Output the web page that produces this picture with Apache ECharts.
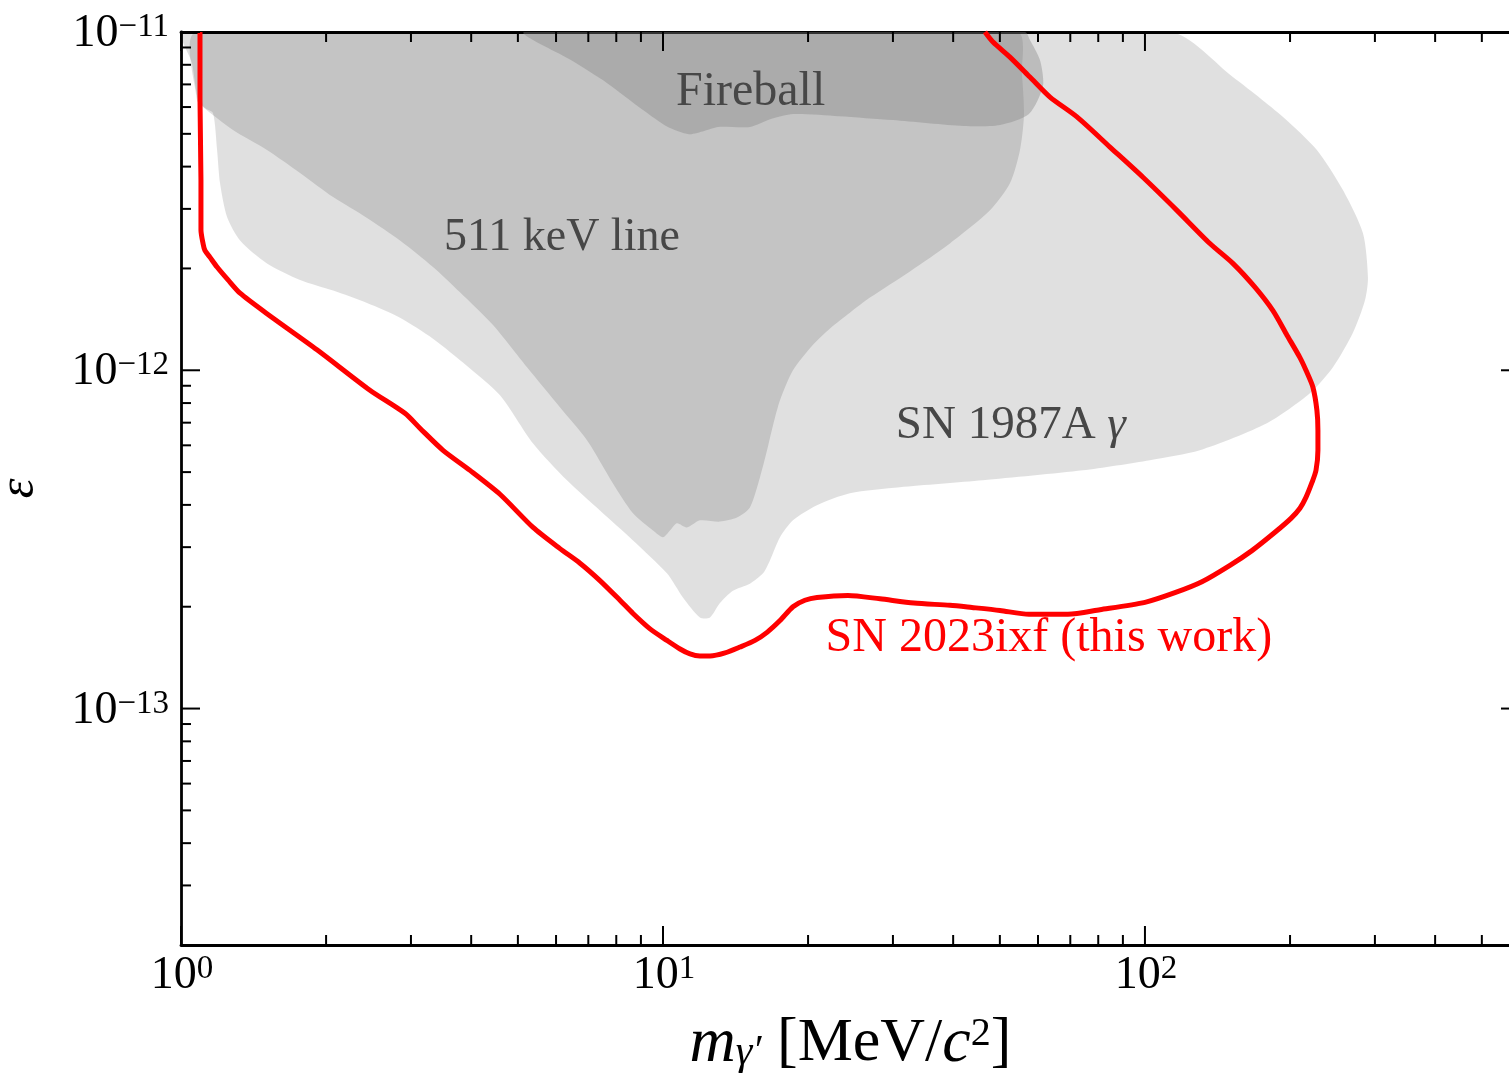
<!DOCTYPE html>
<html>
<head>
<meta charset="utf-8">
<script src="https://cdn.jsdelivr.net/npm/echarts@6/dist/echarts.min.js"></script>
<style>
html, body { margin: 0; padding: 0; background: #ffffff; }
#chart { width: 1509px; height: 1079px; }
</style>
</head>
<body>
<div id="chart"></div>
<script>
// ---------------- axis ranges ----------------
const X_MIN = 1, X_MAX = 600;
const Y_MIN = 2e-14, Y_MAX = 1e-11;

// ---------------- data (mass [MeV/c^2], epsilon) ----------------
const sn2023ixf = [
  [1.095,1.00e-11],[1.095,6.29e-12],[1.100,3.65e-12],[1.100,2.60e-12],[1.111,2.37e-12],
  [1.121,2.26e-12],[1.148,2.16e-12],[1.188,2.02e-12],[1.252,1.85e-12],[1.326,1.69e-12],
  [1.508,1.47e-12],[1.915,1.15e-12],[2.466,8.73e-13],[2.915,7.46e-13],[3.132,6.74e-13],
  [3.497,5.80e-13],[3.978,5.06e-13],[4.590,4.30e-13],[5.376,3.43e-13],[6.113,2.97e-13],
  [6.727,2.69e-13],[7.400,2.39e-13],[8.143,2.09e-13],[8.666,1.91e-13],[9.40,1.72e-13],
  [10.19,1.59e-13],[10.85,1.50e-13],[11.38,1.45e-13],[11.93,1.43e-13],[12.52,1.43e-13],
  [13.45,1.46e-13],[14.45,1.52e-13],[15.52,1.59e-13],[16.44,1.68e-13],[17.49,1.82e-13],
  [18.61,2.00e-13],[19.70,2.09e-13],[20.87,2.13e-13],[24.20,2.16e-13],[28.20,2.11e-13],
  [33.17,2.05e-13],[39.39,2.02e-13],[43.76,1.99e-13],[50.04,1.95e-13],[57.45,1.90e-13],
  [69.22,1.90e-13],[80.66,1.96e-13],[100.0,2.06e-13],[115.4,2.20e-13],[131.3,2.37e-13],
  [150.1,2.65e-13],[166.7,2.93e-13],[186.1,3.32e-13],[200.9,3.65e-13],[209.7,3.91e-13],
  [215.8,4.21e-13],[222.1,4.66e-13],[226.4,5.06e-13],[228.5,5.80e-13],[228.5,6.65e-13],
  [227.4,7.61e-13],[223.1,8.91e-13],[215.8,1.00e-12],[209.7,1.09e-12],[197.1,1.27e-12],
  [184.3,1.50e-12],[169.1,1.76e-12],[152.2,2.07e-12],[136.4,2.37e-12],[116.5,2.97e-12],
  [99.05,3.72e-12],[84.60,4.57e-12],[72.26,5.61e-12],[63.53,6.42e-12],[57.72,7.36e-12],
  [52.47,8.43e-12],[48.39,9.34e-12],[46.56,1.00e-11]
];

const sn1987aGamma = [
  [1.010,1.00e-11],[1.054,8.09e-12],[1.085,6.29e-12],[1.121,5.96e-12],[1.165,5.76e-12],
  [1.188,4.48e-12],[1.205,3.57e-12],[1.246,2.84e-12],[1.326,2.42e-12],[1.508,2.07e-12],
  [1.766,1.85e-12],[2.068,1.72e-12],[2.432,1.58e-12],[2.847,1.43e-12],[3.333,1.24e-12],
  [3.922,1.03e-12],[4.590,8.44e-13],[5.376,6.08e-13],[6.321,4.73e-13],[7.400,3.85e-13],
  [8.666,3.14e-13],[10.19,2.51e-13],[11.00,2.13e-13],[11.93,1.86e-13],[12.52,1.86e-13],
  [13.13,2.05e-13],[13.97,2.23e-13],[15.15,2.34e-13],[16.13,2.51e-13],[16.67,2.74e-13],
  [17.49,3.21e-13],[18.61,3.60e-13],[20.87,3.99e-13],[24.43,4.33e-13],[31.02,4.51e-13],
  [46.12,4.73e-13],[74.36,5.06e-13],[102.4,5.42e-13],[130.0,5.80e-13],[179.1,6.97e-13],
  [219.9,8.55e-13],[245.5,1.02e-12],[270.1,1.29e-12],[286.1,1.61e-12],[290.2,1.88e-12],
  [283.4,2.54e-12],[257.5,3.41e-12],[227.4,4.48e-12],[193.4,5.61e-12],[152.2,7.36e-12],
  [112.7,1.00e-11]
];

const line511keV = [
  [1.079,1.00e-11],[1.079,6.29e-12],[1.111,6.00e-12],[1.282,5.13e-12],[1.508,4.48e-12],
  [1.766,3.83e-12],[2.068,3.25e-12],[2.432,2.82e-12],[2.847,2.42e-12],[3.333,2.02e-12],
  [3.792,1.70e-12],[4.440,1.36e-12],[5.224,1.02e-12],[6.113,7.77e-13],[6.955,6.21e-13],
  [7.876,4.63e-13],[8.666,3.78e-13],[9.535,3.36e-13],[10.00,3.21e-13],[10.34,3.36e-13],
  [10.69,3.53e-13],[11.21,3.43e-13],[11.93,3.60e-13],[13.13,3.57e-13],[14.24,3.67e-13],
  [15.15,3.93e-13],[15.89,4.82e-13],[16.44,5.80e-13],[16.92,6.88e-13],[17.49,8.15e-13],
  [18.61,1.00e-12],[20.48,1.19e-12],[22.21,1.33e-12],[24.43,1.48e-12],[26.88,1.64e-12],
  [32.54,1.96e-12],[39.39,2.37e-12],[47.70,2.97e-12],[52.47,3.57e-12],[55.05,4.48e-12],
  [56.10,5.68e-12],[55.57,7.46e-12],[54.25,1.00e-11]
];

const fireball = [
  [5.17,1.00e-11],[6.44,8.26e-12],[7.65,7.07e-12],[9.09,5.88e-12],[10.24,5.24e-12],
  [11.32,4.99e-12],[12.17,5.10e-12],[13.00,5.24e-12],[15.15,5.24e-12],[16.75,5.53e-12],
  [18.61,5.72e-12],[23.18,5.64e-12],[30.01,5.49e-12],[42.12,5.27e-12],[50.04,5.31e-12],
  [57.45,5.72e-12],[61.43,6.92e-12],[60.56,8.26e-12],[57.72,9.47e-12],[56.36,1.00e-11]
];

// ---------------- ticks and tick labels ----------------
const xMajorTicks = [1, 10, 100];
const xMinorTicks = [2,3,4,5,6,7,8,9, 20,30,40,50,60,70,80,90, 200,300,400,500,600];
const yMajorTicks = [1e-13, 1e-12, 1e-11];
const yMinorTicks = [2e-14,3e-14,4e-14,5e-14,6e-14,7e-14,8e-14,9e-14,
                     2e-13,3e-13,4e-13,5e-13,6e-13,7e-13,8e-13,9e-13,
                     2e-12,3e-12,4e-12,5e-12,6e-12,7e-12,8e-12,9e-12];
const xTickLabels = [['10','0'], ['10','1'], ['10','2']];
const yTickLabels = [['10','\u221213'], ['10','\u221212'], ['10','\u221211']];

// ---------------- annotation labels ----------------
const annotationText = ['Fireball', '511 keV line', '{n|SN 1987A }{g|\u03b3}', 'SN 2023ixf (this work)'];
const annotationAnchor = [[15.2, 6.64e-12], [6.17, 2.46e-12], [52.7, 6.88e-13], [63.2, 1.61e-13]];

// ---------------- styles ----------------
const FONT = '"Liberation Serif", "Times New Roman", serif';
const TEXT_GRAY = '#474747';
const RED = '#ff0000';
const MAJOR_LEN = 19, MINOR_LEN = 10, TICK_W = 2;
const ANNOT_SIZE = [48, 46, 47, 48];

function regionSeries(name, pts, fill, z) {
  return {
    type: 'custom', name: name, coordinateSystem: 'cartesian2d',
    clip: true, silent: true, z: z, animation: false,
    data: pts, encode: { x: 0, y: 1 },
    renderItem: function (params, api) {
      if (params.dataIndex !== 0) return null;
      const points = pts.map(function (p) { return api.coord(p); });
      return { type: 'polygon', shape: { points: points, smooth: 0.25 }, style: { fill: fill } };
    }
  };
}

function xTickSeries(values, len) {
  return {
    type: 'custom', coordinateSystem: 'cartesian2d', clip: false, silent: true, z: 10,
    data: values.map(function (v) { return [v, Y_MIN]; }), encode: { x: 0, y: 1 },
    renderItem: function (params, api) {
      const v = api.value(0);
      const b = api.coord([v, Y_MIN]);
      const t = api.coord([v, Y_MAX]);
      return { type: 'group', children: [
        { type: 'line', shape: { x1: b[0], y1: b[1], x2: b[0], y2: b[1] - len }, style: { stroke: '#000', lineWidth: TICK_W } },
        { type: 'line', shape: { x1: t[0], y1: t[1], x2: t[0], y2: t[1] + len }, style: { stroke: '#000', lineWidth: TICK_W } }
      ] };
    }
  };
}

function yTickSeries(values, len) {
  return {
    type: 'custom', coordinateSystem: 'cartesian2d', clip: false, silent: true, z: 10,
    data: values.map(function (v) { return [X_MIN, v]; }), encode: { x: 0, y: 1 },
    renderItem: function (params, api) {
      const v = api.value(1);
      const l = api.coord([X_MIN, v]);
      const r = api.coord([X_MAX, v]);
      return { type: 'group', children: [
        { type: 'line', shape: { x1: l[0], y1: l[1], x2: l[0] + len, y2: l[1] }, style: { stroke: '#000', lineWidth: TICK_W } },
        { type: 'line', shape: { x1: r[0], y1: r[1], x2: r[0] - len, y2: r[1] }, style: { stroke: '#000', lineWidth: TICK_W } }
      ] };
    }
  };
}

const tickRich = {
  b: { fontSize: 46, lineHeight: 46, fontFamily: FONT, fill: '#000' },
  s: { fontSize: 33, lineHeight: 22, verticalAlign: 'top', fontFamily: FONT, fill: '#000' }
};

const xLabelSeries = {
  type: 'custom', coordinateSystem: 'cartesian2d', clip: false, silent: true, z: 10,
  data: xMajorTicks.map(function (v) { return [v, Y_MIN]; }), encode: { x: 0, y: 1 },
  renderItem: function (params, api) {
    const p = api.coord([api.value(0), Y_MIN]);
    const lab = xTickLabels[params.dataIndex];
    return { type: 'text', x: p[0] + 1, y: p[1] + 8,
      style: { text: '{b|' + lab[0] + '}{s|' + lab[1] + '}', align: 'center', verticalAlign: 'top', rich: tickRich } };
  }
};

const yLabelSeries = {
  type: 'custom', coordinateSystem: 'cartesian2d', clip: false, silent: true, z: 10,
  data: yMajorTicks.map(function (v) { return [X_MIN, v]; }), encode: { x: 0, y: 1 },
  renderItem: function (params, api) {
    const p = api.coord([X_MIN, api.value(1)]);
    const lab = yTickLabels[params.dataIndex];
    return { type: 'text', x: p[0] - 12, y: p[1] + 2,
      style: { text: '{b|' + lab[0] + '}{s|' + lab[1] + '}', align: 'right', verticalAlign: 'middle', rich: tickRich } };
  }
};

const annotationSeries = {
  type: 'custom', coordinateSystem: 'cartesian2d', clip: false, silent: true, z: 8,
  data: annotationAnchor, encode: { x: 0, y: 1 },
  renderItem: function (params, api) {
    const i = params.dataIndex;
    const p = api.coord([api.value(0), api.value(1)]);
    const col = (i === 3) ? RED : TEXT_GRAY;
    const fs = ANNOT_SIZE[i];
    return { type: 'text', x: p[0], y: p[1],
      style: { text: annotationText[i], align: 'center', verticalAlign: 'middle',
        fontSize: fs, fontFamily: FONT, fill: col,
        rich: {
          n: { fontSize: fs, fontFamily: FONT, fill: col },
          g: { fontSize: fs, fontFamily: FONT, fontStyle: 'italic', fill: col }
        } } };
  }
};

const chart = echarts.init(document.getElementById('chart'), null, { renderer: 'canvas' });

const axisLineStyle = { show: true, lineStyle: { color: '#000', width: 2.8 } };

chart.setOption({
  animation: false,
  backgroundColor: '#ffffff',
  grid: { left: 181, top: 32, width: 1339, height: 913, containLabel: false, outerBoundsMode: 'none' },
  xAxis: [
    {
      type: 'log', logBase: 10, min: X_MIN, max: X_MAX, position: 'bottom',
      axisLine: axisLineStyle, axisTick: { show: false }, axisLabel: { show: false }, splitLine: { show: false },
      name: '{i|m}{sub|\u03b3\u2032} [MeV/{i|c}{sup|2}]',
      nameLocation: 'middle', nameGap: 69,
      nameTextStyle: {
        fontSize: 62, lineHeight: 60, fontFamily: FONT, color: '#000',
        rich: {
          i: { fontSize: 64, lineHeight: 60, fontStyle: 'italic', fontFamily: FONT, color: '#000' },
          sub: { fontSize: 42, lineHeight: 30, fontStyle: 'italic', verticalAlign: 'bottom', fontFamily: FONT, color: '#000' },
          sup: { fontSize: 40, lineHeight: 26, verticalAlign: 'top', fontFamily: FONT, color: '#000' }
        }
      }
    },
    {
      type: 'log', logBase: 10, min: X_MIN, max: X_MAX, position: 'top',
      axisLine: axisLineStyle, axisTick: { show: false }, axisLabel: { show: false }, splitLine: { show: false }
    }
  ],
  yAxis: [
    {
      type: 'log', logBase: 10, min: Y_MIN, max: Y_MAX, position: 'left',
      axisLine: axisLineStyle, axisTick: { show: false }, axisLabel: { show: false }, splitLine: { show: false },
      name: '\u03b5', nameLocation: 'middle', nameRotate: 90, nameGap: 136,
      nameTextStyle: { fontSize: 50, fontStyle: 'italic', fontFamily: FONT, color: '#000' }
    },
    {
      type: 'log', logBase: 10, min: Y_MIN, max: Y_MAX, position: 'right',
      axisLine: axisLineStyle, axisTick: { show: false }, axisLabel: { show: false }, splitLine: { show: false }
    }
  ],
  series: [
    regionSeries('SN 1987A \u03b3', sn1987aGamma, 'rgba(0,0,0,0.122)', 1),
    regionSeries('511 keV line', line511keV, 'rgba(0,0,0,0.125)', 2),
    regionSeries('Fireball', fireball, 'rgba(132,132,132,0.39)', 3),
    {
      type: 'line', name: 'SN 2023ixf (this work)', data: sn2023ixf, z: 6,
      showSymbol: false, symbol: 'none', smooth: 0.25, silent: true, clip: true,
      lineStyle: { color: RED, width: 5 }
    },
    annotationSeries,
    xTickSeries(xMajorTicks, MAJOR_LEN),
    xTickSeries(xMinorTicks, MINOR_LEN),
    yTickSeries(yMajorTicks, MAJOR_LEN),
    yTickSeries(yMinorTicks, MINOR_LEN),
    xLabelSeries,
    yLabelSeries
  ]
});
</script>
</body>
</html>
